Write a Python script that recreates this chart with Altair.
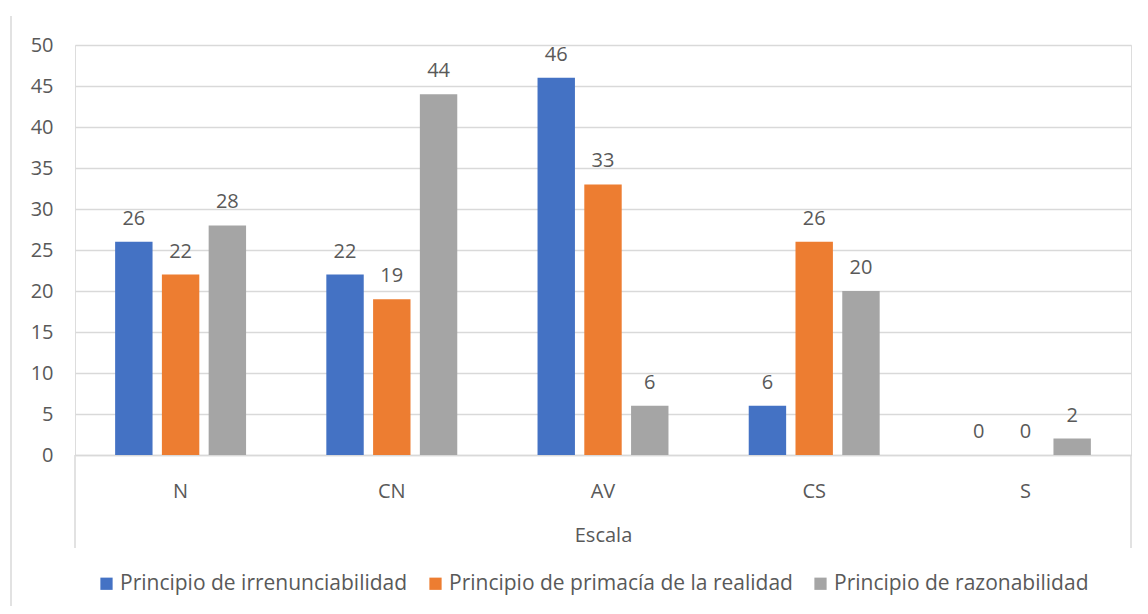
import altair as alt
import pandas as pd

categories = ["N", "CN", "AV", "CS", "S"]
series = ["Principio de irrenunciabilidad", "Principio de primacía de la realidad", "Principio de razonabilidad"]
irrenunciabilidad = [26, 22, 46, 6, 0]
primacia = [22, 19, 33, 26, 0]
razonabilidad = [28, 44, 6, 20, 2]
colors = ["#4472C4", "#ED7D31", "#A5A5A5"]
y_ticks = [0, 5, 10, 15, 20, 25, 30, 35, 40, 45, 50]

rows = []
for s, vals in zip(series, [irrenunciabilidad, primacia, razonabilidad]):
    for c, v in zip(categories, vals):
        rows.append({"Escala": c, "Serie": s, "Valor": v})
df = pd.DataFrame(rows)

FONT = "Open Sans"
TXT = "#595959"
GRID = "#D9D9D9"
W, H = 1056, 410
FS = 20

x_enc = alt.X("Escala:N", sort=categories,
              scale=alt.Scale(paddingInner=0.38, paddingOuter=0.19),
              axis=alt.Axis(title="Escala", labelAngle=0, ticks=False, domain=True,
                            domainColor=GRID, domainWidth=1.5, labelPadding=26,
                            titlePadding=24, labelFontSize=FS, titleFontSize=FS,
                            labelColor=TXT, titleColor=TXT, labelFont=FONT, titleFont=FONT,
                            titleFontWeight="normal"))
xo_enc = alt.XOffset("Serie:N", sort=series,
                     scale=alt.Scale(paddingInner=0.2, paddingOuter=0))
y_enc = alt.Y("Valor:Q", scale=alt.Scale(domain=[0, 50], nice=False),
              axis=alt.Axis(title=None, values=y_ticks, grid=True, gridColor=GRID,
                            gridWidth=1.5, ticks=False, domain=False, labelPadding=22,
                            labelFontSize=FS, labelColor=TXT, labelFont=FONT))
color_enc = alt.Color("Serie:N", sort=series,
                      scale=alt.Scale(domain=series, range=colors),
                      legend=alt.Legend(title=None, orient="none", direction="horizontal",
                                        legendX=21, legendY=528, padding=0,
                                        symbolType="square",
                                        symbolSize=150, symbolStrokeWidth=0,
                                        labelFontSize=21, labelColor=TXT, labelFont=FONT,
                                        labelOffset=3, columnPadding=17, labelLimit=600))

base = alt.Chart(df)
bars = base.mark_bar().encode(x=x_enc, xOffset=xo_enc, y=y_enc, color=color_enc)
labels = base.mark_text(baseline="alphabetic", dy=-17, fontSize=FS, font=FONT,
                        color=TXT).encode(
    x=alt.X("Escala:N", sort=categories), xOffset=alt.XOffset("Serie:N", sort=series),
    y="Valor:Q", text="Valor:Q")

frame_df = pd.DataFrame({"k": [0]})
left_box = alt.Chart(frame_df).mark_rule(color=GRID, strokeWidth=1.5).encode(
    x=alt.value(0), y=alt.value(H), y2=alt.value(H + 93))
right_box = alt.Chart(frame_df).mark_rule(color=GRID, strokeWidth=1.5).encode(
    x=alt.value(W), y=alt.value(H), y2=alt.value(H + 93))
outer = alt.Chart(frame_df).mark_rule(color=GRID, strokeWidth=1.5).encode(
    x=alt.value(-64), y=alt.value(-29), y2=alt.value(562))

chart = alt.layer(bars, labels, left_box, right_box, outer).properties(
    width=W, height=H,
    autosize=alt.AutoSizeParams(type="none"),
    padding={"left": 67, "top": 37, "right": 9, "bottom": 151},
).configure_view(stroke=None).configure(background="white")

chart.save("out.html", embed_options={"renderer": "svg", "actions": False})
